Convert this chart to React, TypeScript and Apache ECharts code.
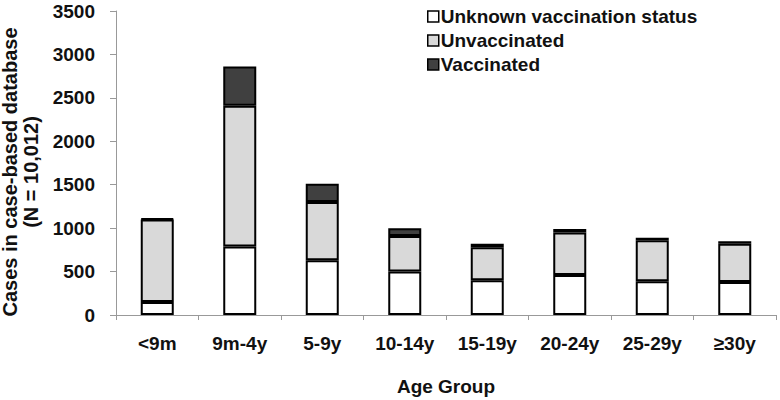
import React, { useEffect, useRef } from "react";
import * as echarts from "echarts";

const categories = ["<9m", "9m-4y", "5-9y", "10-14y", "15-19y", "20-24y", "25-29y", "≥30y"];
const unknownStatus = [150, 790, 630, 500, 400, 460, 390, 380];
const unvaccinated = [950, 1620, 670, 410, 380, 490, 470, 440];
const vaccinated = [10, 450, 210, 90, 40, 40, 30, 30];
const seriesNames = ["Unknown vaccination status", "Unvaccinated", "Vaccinated"];
const seriesColors = ["#ffffff", "#d9d9d9", "#404040"];

export default function App() {
  const ref = useRef<HTMLDivElement>(null);
  useEffect(() => {
    if (!ref.current) return;
    const chart = echarts.init(ref.current, null, { renderer: "svg" });
    const font = "'Liberation Sans', Arial, sans-serif";
    const dataSets = [unknownStatus, unvaccinated, vaccinated];
    chart.setOption({
      animation: false,
      backgroundColor: "#ffffff",
      textStyle: { fontFamily: font },
      grid: { left: 116, right: 4, top: 11, bottom: 85, containLabel: false, outerBoundsMode: "none" },
      legend: {
        data: seriesNames,
        orient: "vertical",
        left: 422,
        top: 2,
        itemGap: 5,
        itemWidth: 11,
        itemHeight: 11,
        icon: "rect",
        itemStyle: { borderColor: "#000", borderWidth: 1.5 },
        textStyle: { fontSize: 19, fontWeight: "bold", color: "#111", fontFamily: font, padding: [0, 0, 0, -3] },
      },
      xAxis: {
        type: "category",
        data: categories,
        name: "Age Group",
        nameLocation: "middle",
        nameGap: 62,
        nameTextStyle: { fontSize: 19, fontWeight: "bold", color: "#111", fontFamily: font },
        axisLine: { lineStyle: { color: "#999999", width: 1 } },
        axisTick: { show: true, length: 5, alignWithLabel: false, lineStyle: { color: "#999999" } },
        axisLabel: { fontSize: 19, fontWeight: "bold", color: "#111", margin: 19, fontFamily: font },
      },
      yAxis: {
        type: "value",
        min: 0,
        max: 3500,
        interval: 500,
        name: "Cases in case-based database\n(N = 10,012)",
        nameLocation: "middle",
        nameRotate: 90,
        nameGap: 67,
        nameTextStyle: {
          fontSize: 20,
          fontWeight: "bold",
          color: "#111",
          fontFamily: font,
          lineHeight: 21,
          padding: [0, 18, 0, 0],
        },
        axisLine: { show: true, lineStyle: { color: "#999999", width: 1 } },
        axisTick: { show: true, length: 6, lineStyle: { color: "#999999" } },
        splitLine: { show: false },
        axisLabel: {
          fontSize: 19,
          fontWeight: "bold",
          color: "#111",
          margin: 21,
          fontFamily: font,
          formatter: (v: number) => String(v),
        },
      },
      series: seriesNames.map((name, i) => ({
        name,
        type: "bar",
        stack: "total",
        barWidth: 33,
        data: dataSets[i],
        itemStyle: { color: seriesColors[i], borderColor: "#000", borderWidth: 2 },
      })),
    });
    return () => chart.dispose();
  }, []);
  return <div ref={ref} style={{ width: 780, height: 400, position: "absolute", left: 0, top: 0 }} />;
}
